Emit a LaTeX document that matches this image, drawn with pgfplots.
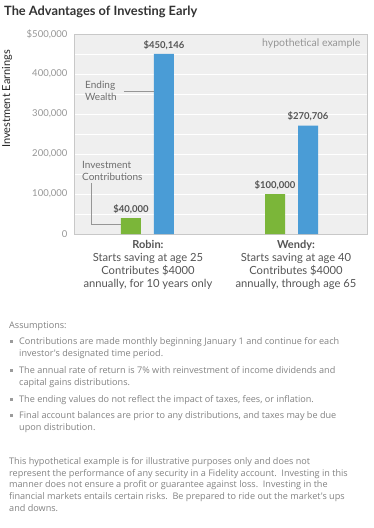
\documentclass[border=0pt]{standalone}
\usepackage{pgfplots}
\pgfplotsset{compat=1.18}
\usepackage{fontspec}
\setmainfont{Lato}
\newfontfamily\notefont{Open Sans}
\definecolor{bargreen}{RGB}{123,182,57}
\definecolor{barblue}{RGB}{74,156,214}
\definecolor{bgpanel}{RGB}{239,239,239}
\definecolor{framec}{RGB}{200,200,200}
\definecolor{ticktext}{RGB}{150,150,150}
\definecolor{cattext}{RGB}{85,85,85}
\definecolor{anntext}{RGB}{110,110,110}
\definecolor{notetext}{RGB}{130,130,130}
\begin{document}
\begin{tikzpicture}[x=1pt,y=1pt]
\path[fill=white, use as bounding box] (0pt,0pt) rectangle (374pt,-528pt);
\node[anchor=base west, font=\fontsize{12.8}{14}\selectfont\bfseries, text=black!80, inner sep=0] at (4pt,-15pt) {The Advantages of Investing Early};
\begin{axis}[at={(74pt,-234pt)}, anchor=south west, scale only axis,
  width=293pt, height=200pt, xmin=0, xmax=293, ymin=0, ymax=500000,
  axis background/.style={fill=bgpanel},
  axis line style={framec, line width=0.8pt},
  xtick=\empty,
  ytick={0,100000,200000,300000,400000,500000},
  yticklabels={0,{100,000},{200,000},{300,000},{400,000},{\$500,000}},
  minor ytick={50000,150000,250000,350000,450000},
  ymajorgrids, yminorgrids,
  major grid style={white, line width=0.8pt},
  minor grid style={white, line width=0.8pt},
  major tick style={draw=none}, minor tick style={draw=none},
  yticklabel style={font=\fontsize{9.5}{10}\selectfont, text=ticktext, xshift=-3pt},
  /pgf/number format/assume math mode=true,
  scaled y ticks=false, clip=false]
\addplot[ybar, bar width=20, bar shift=0pt, fill=bargreen, draw=none,
  nodes near coords, point meta=explicit symbolic,
  nodes near coords style={font=\bfseries\fontsize{9.5}{10}\selectfont, text=cattext, anchor=south, yshift=1pt}]
  coordinates {(57,40000)[{\$40,000}] (201,100000)[{\$100,000}]};
\addplot[ybar, bar width=20, bar shift=0pt, fill=barblue, draw=none,
  nodes near coords, point meta=explicit symbolic,
  nodes near coords style={font=\bfseries\fontsize{9.5}{10}\selectfont, text=cattext, anchor=south, yshift=1pt}]
  coordinates {(90,450146)[{\$450,146}] (234,270706)[{\$270,706}]};
\node[anchor=east, text=ticktext, font=\fontsize{10.5}{11}\selectfont] at (axis cs:290,475000) {hypothetical example};
\node[anchor=west, align=left, text=anntext, font=\fontsize{10}{12}\selectfont, inner sep=0] at (axis cs:11,357500) {Ending\\Wealth};
\draw[ticktext, line width=0.6pt] (axis cs:50,357500) -- (axis cs:80,357500);
\node[anchor=west, align=left, text=anntext, font=\fontsize{10}{12}\selectfont, inner sep=0] at (axis cs:8,157500) {Investment\\Contributions};
\draw[ticktext, line width=0.6pt] (axis cs:17,127500) -- (axis cs:17,25000) -- (axis cs:47,25000);
\end{axis}
% category labels
\foreach \cx/\a/\b/\c/\d in {148/Robin:/Starts saving at age 25/Contributes \$4000/{annually, for 10 years only}, 296/Wendy:/Starts saving at age 40/Contributes \$4000/{annually, through age 65}}{
  \node[anchor=base, inner sep=0, text=cattext, font=\fontsize{11}{12}\selectfont\bfseries] at (\cx pt,-248pt) {\a};
  \node[anchor=base, inner sep=0, text=cattext, font=\fontsize{11.2}{12}\selectfont] at (\cx pt,-261pt) {\b};
  \node[anchor=base, inner sep=0, text=cattext, font=\fontsize{11.2}{12}\selectfont] at (\cx pt,-274pt) {\c};
  \node[anchor=base, inner sep=0, text=cattext, font=\fontsize{11.2}{12}\selectfont] at (\cx pt,-287pt) {\d};
}
% footnotes
\begin{scope}[every node/.style={anchor=base west, inner sep=0, text=notetext, font=\notefont\fontsize{9.1}{10}\selectfont}]
\node at (9pt,-328pt) {Assumptions:};
\foreach \y in {344,373,402,418}{\fill[notetext!80] (10pt,-\y pt) ++(0pt,1pt) rectangle ++(2.6pt,2.6pt);}
\node at (19pt,-344pt) {Contributions are made monthly beginning January 1 and continue for each};
\node at (19pt,-356pt) {investor's designated time period.};
\node at (19pt,-373pt) {The annual rate of return is 7\% with reinvestment of income dividends and};
\node at (19pt,-385pt) {capital gains distributions.};
\node at (19pt,-402pt) {The ending values do not reflect the impact of taxes, fees, or inflation.};
\node at (19pt,-418pt) {Final account balances are prior to any distributions, and taxes may be due};
\node at (19pt,-430pt) {upon distribution.};
\node at (9pt,-464pt) {This hypothetical example is for illustrative purposes only and does not};
\node at (9pt,-476pt) {represent the performance of any security in a Fidelity account.\ \ Investing in this};
\node at (9pt,-487pt) {manner does not ensure a profit or guarantee against loss.\ \ Investing in the};
\node at (9pt,-499pt) {financial markets entails certain risks.\ \ Be prepared to ride out the market's ups};
\node at (9pt,-511pt) {and downs.};
\end{scope}
\node[rotate=90, anchor=center, font=\fontsize{11}{11}\selectfont, text=black!85] at (7pt,-99pt) {Investment Earnings};
\end{tikzpicture}
\end{document}
